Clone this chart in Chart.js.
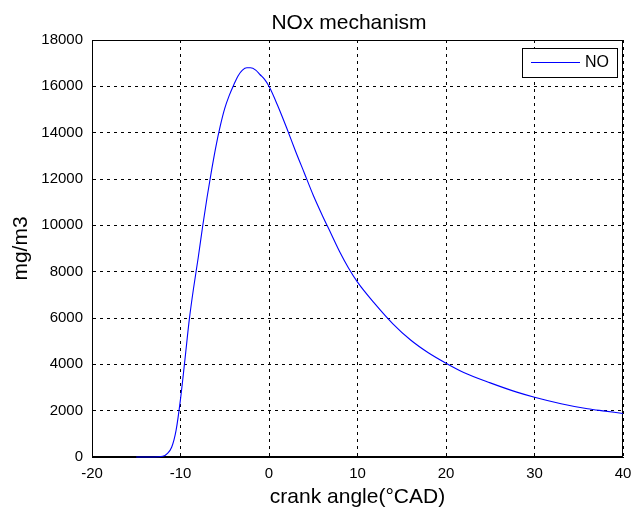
<!DOCTYPE html>
<html lang="en">
<head>
  <meta charset="UTF-8" />
  <title>NOx mechanism</title>
  <script src="https://cdn.jsdelivr.net/npm/chart.js"></script>
  <style>
    body {
      margin: 0;
      background: #fff;
    }
    #wrap {
      width: 631px;
      height: 513px;
    }
  </style>
</head>
<body>
  <div id="wrap"><canvas id="noxChart" width="631" height="513"></canvas></div>

  <script>
    // crank angle (°CAD) and NO concentration (mg/m3)
    const crankAngle = [-15, -13, -12, -11.5, -11, -10.5, -10, -9.5, -9, -8.5, -8, -7.5, -7, -6.5, -6, -5.5, -5, -4.5, -4, -3.5, -3, -2.5, -2.1, -1.5, -1, -0.5, 0, 1, 2, 3, 4, 5, 6, 7, 8, 9, 10, 12, 14, 16, 18, 20, 22, 25, 28, 30, 33, 36, 38, 40];
    const noValues = [0, 0, 30, 150, 420, 1150, 2500, 4200, 5950, 7350, 8600, 9950, 11200, 12350, 13400, 14300, 15050, 15600, 16050, 16450, 16700, 16800, 16800, 16700, 16500, 16300, 16000, 15150, 14200, 13200, 12250, 11300, 10450, 9650, 8850, 8150, 7550, 6600, 5750, 5050, 4500, 4050, 3650, 3200, 2800, 2580, 2300, 2080, 1980, 1880];
    const xTicks = [-20, -10, 0, 10, 20, 30, 40];
    const yTicks = [0, 2000, 4000, 6000, 8000, 10000, 12000, 14000, 16000, 18000];

    const FONT = "Arial, 'Liberation Sans', sans-serif";

    // axes box goes under the curve, title and boxed legend on top
    const framePlugin = {
      id: 'frame',
      beforeDatasetsDraw(chart) {
        const ctx = chart.ctx;
        const a = chart.chartArea;
        ctx.save();
        ctx.strokeStyle = '#000';
        ctx.lineWidth = 1;
        ctx.setLineDash([]);
        ctx.strokeRect(a.left + 0.5, a.top + 0.5, a.right - a.left - 1, a.bottom - a.top - 1);
        ctx.restore();
      },
      afterDraw(chart) {
        const ctx = chart.ctx;
        ctx.save();
        ctx.fillStyle = '#000';
        ctx.font = '21px ' + FONT;
        ctx.textAlign = 'center';
        ctx.textBaseline = 'alphabetic';
        ctx.fillText('NOx mechanism', 349, 29);

        // legend
        const lx = 522, ly = 48, lw = 95, lh = 29;
        ctx.fillStyle = '#fff';
        ctx.fillRect(lx, ly, lw, lh);
        ctx.strokeStyle = '#000';
        ctx.lineWidth = 1;
        ctx.strokeRect(lx + 0.5, ly + 0.5, lw, lh);
        ctx.strokeStyle = '#0000ff';
        ctx.beginPath();
        ctx.moveTo(531, 62.5);
        ctx.lineTo(580, 62.5);
        ctx.stroke();
        ctx.fillStyle = '#000';
        ctx.font = '16px ' + FONT;
        ctx.textAlign = 'left';
        ctx.textBaseline = 'middle';
        ctx.fillText(chart.data.datasets[0].label, 585, 63);
        ctx.restore();
      }
    };

    new Chart(document.getElementById('noxChart'), {
      type: 'scatter',
      data: {
        datasets: [{
          label: 'NO',
          data: crankAngle.map((x, i) => ({ x: x, y: noValues[i] })),
          showLine: true,
          borderColor: '#0000ff',
          borderWidth: 1.1,
          pointRadius: 0,
          cubicInterpolationMode: 'monotone',
          clip: 2
        }]
      },
      options: {
        responsive: false,
        animation: false,
        layout: { padding: { top: 40, right: 8, left: 0, bottom: 0 } },
        plugins: {
          legend: { display: false },
          title: { display: false },
          tooltip: { enabled: false }
        },
        scales: {
          x: {
            type: 'linear',
            min: -20,
            max: 40,
            afterBuildTicks: s => { s.ticks = xTicks.map(v => ({ value: v })); },
            afterFit: s => { s.height = 56; s.paddingLeft = 0; s.paddingRight = 0; },
            grid: { color: '#000', lineWidth: 1, drawTicks: false },
            border: { display: true, color: '#000', dash: [3, 4] },
            ticks: { color: '#000', font: { family: FONT, size: 15 }, padding: 8, maxRotation: 0 },
            title: { display: true, text: 'crank angle(°CAD)', color: '#000', font: { family: FONT, size: 21 }, padding: { top: 0, bottom: 3 } }
          },
          y: {
            min: 0,
            max: 18000,
            afterBuildTicks: s => { s.ticks = yTicks.map(v => ({ value: v })); },
            afterFit: s => { s.width = 92; s.paddingTop = 0; s.paddingBottom = 0; },
            grid: { color: '#000', lineWidth: 1, drawTicks: false },
            border: { display: true, color: '#000', dash: [3, 4] },
            ticks: { color: '#000', font: { family: FONT, size: 15 }, padding: 9, callback: v => String(v) },
            title: { display: true, text: 'mg/m3', color: '#000', font: { family: FONT, size: 21 }, padding: { top: 9, bottom: 0 } }
          }
        }
      },
      plugins: [framePlugin]
    });
  </script>
</body>
</html>
